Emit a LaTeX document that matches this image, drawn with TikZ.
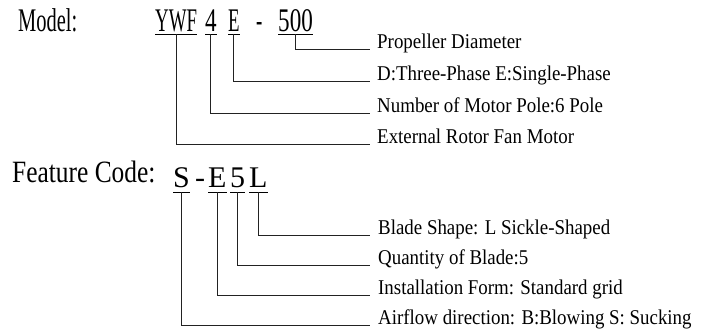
\documentclass[tikz,border=0pt]{standalone}
\usepackage{fontspec}
\setmainfont{Liberation Serif}
\newfontfamily\headfont[FakeStretch=0.62]{Liberation Serif}
\newfontfamily\codefont[FakeStretch=0.57]{Liberation Serif}
\newfontfamily\digitfont[FakeStretch=0.7]{Liberation Serif}
\newfontfamily\featfont[FakeStretch=0.82]{Liberation Serif}
\newfontfamily\labfont[FakeStretch=0.9]{Liberation Serif}
\usetikzlibrary{positioning}
\definecolor{lineGray}{HTML}{222222}

\begin{document}
\begin{tikzpicture}[x=1pt, y=-1pt,
      every node/.style={inner sep=0pt, anchor=base west, text=black},
      heading/.style={font=\headfont\fontsize{33}{35}\selectfont},
      featheading/.style={font=\featfont\fontsize{31}{33}\selectfont},
      codeletter/.style={font=\codefont\fontsize{33}{35}\selectfont, text depth=0pt, inner ysep=2pt},
      codedigit/.style={codeletter, font=\digitfont\fontsize{33}{35}\selectfont},
      featletter/.style={font=\fontsize{30}{32}\selectfont, text depth=0pt, inner ysep=4pt},
      lab/.style={font=\labfont\fontsize{21}{23}\selectfont},
      uline/.style={draw=black, line width=1pt},
      conn/.style={draw=lineGray, line width=1pt},
    ]
      \useasboundingbox (0,0) rectangle (702,334);

      % model code
      \node[heading] (model) at (18,32) {Model:};
      \node[codeletter] (ywf) at (155,32) {YWF};
      \node[codedigit] (pole) at (205,32) {4};
      \node[codeletter] (phase) at (228,32) {E};
      \node[codeletter] (dash) at (256,32) {-};
      \node[codedigit] (dia) at (278,32) {500};

      % model labels
      \node[lab] (lDia) at (377,49) {Propeller Diameter};
      \node[lab] (lPhase) at (377,81) {D:Three-Phase E:Single-Phase};
      \node[lab] (lPole) at (377,113) {Number of Motor Pole:6 Pole};
      \node[lab] (lRotor) at (377,144) {External Rotor Fan Motor};

      % feature code
      \node[featheading] (feature) at (12,183) {Feature Code:};
      \node[featletter] (fS) at (173,188) {S};
      \node[featletter] (fDash) at (195,188) {-};
      \node[featletter] (fE) at (208,188) {E};
      \node[featletter] (fFive) at (230,188) {5};
      \node[featletter] (fL) at (249,188) {L};

      % feature labels
      \node[lab] (lBlade) at (378,234) {Blade Shape: L Sickle-Shaped};
      \node[lab] (lQty) at (378,264) {Quantity of Blade:5};
      \node[lab] (lForm) at (378,294) {Installation Form: Standard grid};
      \node[lab] (lAir) at (378,324) {Airflow direction: B:Blowing S: Sucking};

      % underlines
      \draw[uline] (ywf.south west) -- (ywf.south east);
      \draw[uline] (pole.south west) -- (pole.south east);
      \draw[uline] (phase.south west) -- (phase.south east);
      \draw[uline] (dia.south west) -- (dia.south east);
      \draw[uline] (fS.south west) -- (fS.south east);
      \draw[uline] (fE.south west) -- (fE.south east);
      \draw[uline] (fFive.south west) -- (fFive.south east);
      \draw[uline] (fL.south west) -- (fL.south east);

      % connectors
      \draw[conn] (dia.south) |- ([xshift=-7pt, yshift=-1pt]lDia.base west);
      \draw[conn] (phase.south) |- ([xshift=-7pt, yshift=-1pt]lPhase.base west);
      \draw[conn] (pole.south) |- ([xshift=-7pt, yshift=-1pt]lPole.base west);
      \draw[conn] (ywf.south) |- ([xshift=-7pt, yshift=-1pt]lRotor.base west);
      \draw[conn] (fL.south) |- ([xshift=-8pt, yshift=-1pt]lBlade.base west);
      \draw[conn] (fFive.south) |- ([xshift=-8pt, yshift=-1pt]lQty.base west);
      \draw[conn] (fE.south) |- ([xshift=-8pt, yshift=-1pt]lForm.base west);
      \draw[conn] (fS.south) |- ([xshift=-8pt, yshift=-1pt]lAir.base west);

    \end{tikzpicture}
\end{document}
